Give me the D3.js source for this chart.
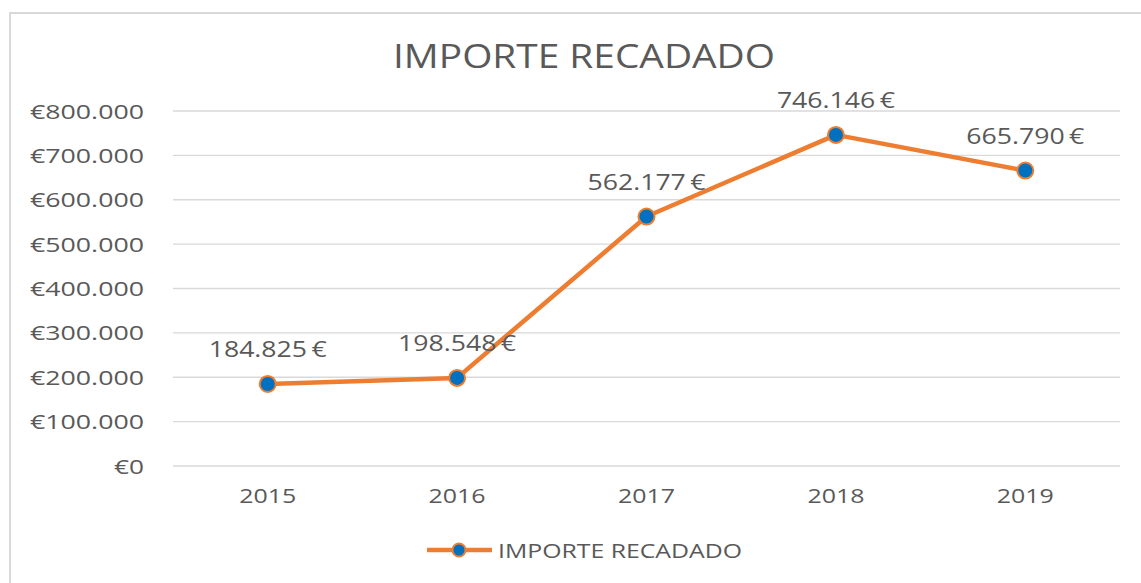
<!DOCTYPE html>
<html>
<head>
<meta charset="utf-8">
<script src="https://cdn.jsdelivr.net/npm/d3@7"></script>
<style>
  body { margin: 0; background: #fff; }
  svg text { font-family: "Open Sans", sans-serif; fill: #595959; }
</style>
</head>
<body>
<svg id="chart"></svg>
<script>
(function () {
    "use strict";

    var years = ["2015", "2016", "2017", "2018", "2019"];
    var importe = [184825, 198548, 562177, 746146, 665790];
    var yTicks = [0, 100000, 200000, 300000, 400000, 500000, 600000, 700000, 800000];
    var title = "IMPORTE RECADADO";
    var seriesName = "IMPORTE RECADADO";

    var W = 1141, H = 583;
    var plot = { left: 173, right: 1120, top: 111, bottom: 466 };

    var svg = d3.select("#chart").attr("width", W).attr("height", H);

    // chart frame
    svg.append("rect")
        .attr("x", 10).attr("y", 13)
        .attr("width", W + 20).attr("height", H + 20)
        .attr("fill", "#fff").attr("stroke", "#d9d9d9").attr("stroke-width", 2);

    var x = d3.scaleBand().domain(years).range([plot.left, plot.right]).padding(0);
    var y = d3.scaleLinear().domain([0, 800000]).range([plot.bottom, plot.top]);
    var cx = function (d) { return x(d) + x.bandwidth() / 2; };

    var fmtAxis = function (v) {
        return "€" + d3.format(",")(v).replace(/,/g, ".");
    };
    var fmtLabel = function (v) {
        return d3.format(",")(v).replace(/,/g, ".") + "\u2009€";
    };

    // title
    svg.append("text")
        .attr("x", 584).attr("y", 68)
        .attr("text-anchor", "middle")
        .attr("textLength", 382).attr("lengthAdjust", "spacingAndGlyphs")
        .style("font-size", "32px")
        .text(title);

    // gridlines
    svg.append("g").selectAll("line").data(yTicks).enter().append("line")
        .attr("x1", plot.left).attr("x2", plot.right)
        .attr("y1", function (d) { return y(d); })
        .attr("y2", function (d) { return y(d); })
        .attr("stroke", "#d9d9d9").attr("stroke-width", 1.3);

    // y axis labels
    var yaxis = d3.axisLeft(y).tickValues(yTicks).tickFormat(fmtAxis).tickSize(0).tickPadding(0);
    var gy = svg.append("g").attr("transform", "translate(144,0)").call(yaxis);
    gy.select(".domain").remove();
    gy.selectAll("text")
        .style("font-size", "20px")
        .attr("dy", "0.35em")
        .attr("fill", "#595959")
        .each(function () {
            var t = d3.select(this);
            var n = t.text().length;
            t.attr("textLength", n <= 2 ? 30 : 114).attr("lengthAdjust", "spacingAndGlyphs");
        });

    // x axis labels
    var xaxis = d3.axisBottom(x).tickSize(0).tickPadding(0);
    var gx = svg.append("g").attr("transform", "translate(0,489)").call(xaxis);
    gx.select(".domain").remove();
    gx.selectAll("text")
        .style("font-size", "20px")
        .attr("dy", "0.71em")
        .attr("fill", "#595959")
        .attr("textLength", 57).attr("lengthAdjust", "spacingAndGlyphs");

    // line
    var line = d3.line()
        .x(function (d, i) { return cx(years[i]); })
        .y(function (d) { return y(d); });
    svg.append("path").datum(importe)
        .attr("d", line)
        .attr("fill", "none")
        .attr("stroke", "#ED7D31")
        .attr("stroke-width", 4.5)
        .attr("stroke-linejoin", "round");

    // markers
    svg.append("g").selectAll("circle").data(importe).enter().append("circle")
        .attr("cx", function (d, i) { return cx(years[i]); })
        .attr("cy", function (d) { return y(d); })
        .attr("r", 8)
        .attr("fill", "#0070C0")
        .attr("stroke", "#ED7D31")
        .attr("stroke-width", 2);

    // data labels
    svg.append("g").selectAll("text").data(importe).enter().append("text")
        .attr("x", function (d, i) { return cx(years[i]); })
        .attr("y", function (d) { return y(d) - 27; })
        .attr("text-anchor", "middle")
        .attr("textLength", 118).attr("lengthAdjust", "spacingAndGlyphs")
        .style("font-size", "21px")
        .text(fmtLabel);

    // legend
    var lg = svg.append("g").attr("transform", "translate(427,550)");
    lg.append("line").attr("x1", 0).attr("x2", 65).attr("y1", 0).attr("y2", 0)
        .attr("stroke", "#ED7D31").attr("stroke-width", 4.5);
    lg.append("circle").attr("cx", 32).attr("cy", 0).attr("r", 6.5)
        .attr("fill", "#0070C0").attr("stroke", "#ED7D31").attr("stroke-width", 2);
    lg.append("text").attr("x", 71).attr("y", 8)
        .attr("textLength", 244).attr("lengthAdjust", "spacingAndGlyphs")
        .style("font-size", "20px")
        .text(seriesName);
})();
</script>
</body>
</html>
